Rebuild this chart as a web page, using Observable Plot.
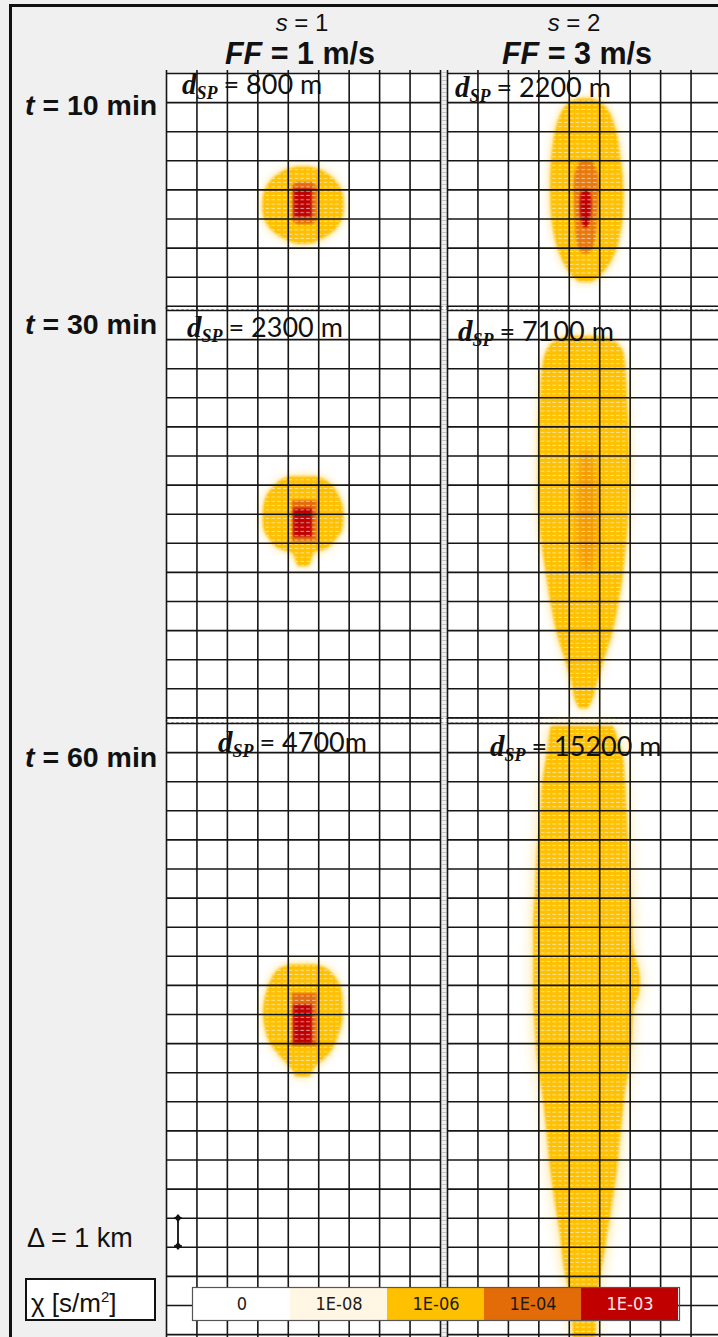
<!DOCTYPE html>
<html><head><meta charset="utf-8">
<script src="https://cdn.jsdelivr.net/npm/d3@7"></script>
<script src="https://cdn.jsdelivr.net/npm/@observablehq/plot@0.6"></script>
<style>
html,body{margin:0;padding:0;}
body{width:718px;height:1337px;overflow:hidden;background:#f0f0f0;position:relative;font-family:"Liberation Sans",Arial,sans-serif;color:#111;}
.abs{position:absolute;white-space:nowrap;line-height:1;}
.dsp{font-family:Lato,"Open Sans",sans-serif;font-size:27px;}
.dsp .d{font-family:"Liberation Serif","DejaVu Serif",serif;font-weight:bold;font-style:italic;font-size:29px;}
.dsp .sub{font-family:"Liberation Serif","DejaVu Serif",serif;font-weight:bold;font-style:italic;font-size:18px;position:relative;top:5px;margin-right:6px;}
</style></head><body>
<svg width="0" height="0" style="position:absolute">
<defs>
 <pattern id="tex" patternUnits="userSpaceOnUse" width="5.8" height="4.3"><rect x="1" y="1.6" width="3.6" height="1" fill="#fff" fill-opacity="0.6"/></pattern>
 <filter id="halo" x="-60%" y="-30%" width="220%" height="160%"><feGaussianBlur stdDeviation="5"/></filter>
 <filter id="wide" x="-80%" y="-30%" width="260%" height="160%"><feGaussianBlur stdDeviation="7"/></filter>
 <filter id="blob" x="-60%" y="-30%" width="220%" height="160%"><feGaussianBlur stdDeviation="4"/></filter>
 <filter id="soft" x="-20%" y="-20%" width="140%" height="140%"><feGaussianBlur stdDeviation="1.1"/></filter>
</defs></svg>
<script>
// ---------- data ----------
const gridX = [0,1,2,3,4,5,6,7,8,9];
const gridY10 = [0,1,2,3,4,5,6,7,8];
const gridY30 = [0,1,2,3,4,5,6,7,8,9,10,11,12,13,14];
const gridY60 = [0,1,2,3,4,5,6,7,8,9,10,11,12,13,14,15,16,17,18,19,20,21];
const stabilityLabels = ["1", "2"];
const windLabels = ["1 m/s", "3 m/s"];
const timeLabels = ["10", "30", "60"];
const dspLabels = [["800 m", "2200 m"], ["2300 m", "7100 m"], ["4700m", "15200 m"]];
const legendLabels = ["0", "1E-08", "1E-06", "1E-04", "1E-03"];
const legendColors = ["#ffffff", "#fff6e3", "#ffc000", "#e36c09", "#c00000"];

// plume outlines: [y km from panel top, x left km, x right km]
const t10s1Yellow = [[3.22,4.3,4.7],[3.32,3.95,5.05],[3.5,3.65,5.35],[3.75,3.4,5.6],[4.1,3.22,5.78],[4.5,3.17,5.83],[4.9,3.2,5.8],[5.25,3.35,5.65],[5.55,3.65,5.35],[5.75,4.0,5.0],[5.87,4.3,4.7]];
const t10s1Orange = [[3.75,4.25,4.8],[3.9,4.13,4.95],[5.05,4.13,4.95],[5.2,4.3,4.8]];
const t10s1Red = [[3.97,4.2,4.78],[4.95,4.2,4.78]];
const t10s2Yellow = [[0.88,4.3,4.75],[1.02,4.0,5.05],[1.3,3.78,5.3],[2.0,3.55,5.55],[3.0,3.42,5.7],[4.0,3.39,5.79],[5.05,3.44,5.75],[5.9,3.6,5.6],[6.5,3.82,5.36],[6.95,4.1,5.03],[7.17,4.35,4.75]];
const t10s2Orange = [[3.0,4.4,4.75],[3.4,4.21,4.93],[5.0,4.2,4.93],[5.95,4.3,4.8],[6.2,4.45,4.65]];
const t10s2Red = [[4.0,4.45,4.65],[4.2,4.38,4.72],[4.9,4.38,4.72],[5.3,4.48,4.62]];
const t30s1Yellow = [[5.72,4.1,4.9],[5.85,3.75,5.25],[6.05,3.55,5.47],[6.36,3.31,5.66],[6.76,3.2,5.8],[7.16,3.18,5.82],[7.56,3.22,5.77],[7.9,3.42,5.55],[8.19,3.69,5.28],[8.35,4.15,4.85],[8.71,4.29,4.73],[8.8,4.35,4.67]];
const t30s1Orange = [[6.53,4.13,4.95],[7.96,4.13,4.95]];
const t30s1Red = [[6.81,4.18,4.79],[7.79,4.18,4.79]];
const t30s2Yellow = [[0.9,4.0,5.0],[1.05,3.55,5.45],[1.37,3.28,5.75],[2.06,3.11,5.86],[3.09,3.06,5.91],[4.24,3.0,5.96],[5.38,3.0,6.0],[6.53,3.0,5.96],[7.67,3.06,5.91],[8.82,3.22,5.8],[9.97,3.39,5.64],[11.1,3.61,5.42],[12.03,3.88,5.14],[12.83,4.1,4.92],[13.4,4.21,4.76],[13.69,4.35,4.62]];
const t30s2Orange = [[4.8,4.45,4.7],[5.8,4.3,4.9],[7.0,4.25,4.95],[8.2,4.3,4.9],[9.0,4.45,4.75]];
const t60s1Yellow = [[8.3,4.1,4.9],[8.42,3.75,5.25],[8.62,3.55,5.47],[9.05,3.36,5.72],[9.74,3.2,5.8],[10.31,3.22,5.77],[10.88,3.36,5.6],[11.23,3.58,5.44],[11.51,3.8,5.22],[11.74,4.02,4.95],[11.97,4.18,4.79],[12.14,4.23,4.73]];
const t60s1Orange = [[9.27,4.13,4.95],[11.11,4.13,4.95]];
const t60s1Red = [[9.68,4.18,4.79],[11.0,4.18,4.79]];
const t60s2Yellow = [[0.1,3.4,5.45],[1.03,3.28,5.75],[2.18,3.11,5.86],[3.32,3.06,5.91],[4.47,2.95,5.96],[5.61,2.9,6.02],[6.76,2.84,6.07],[7.8,2.84,6.12],[8.3,2.84,6.25],[8.7,2.84,6.33],[9.3,2.84,6.3],[9.8,2.85,6.13],[10.77,2.9,6.07],[11.91,3.0,5.96],[13.06,3.17,5.8],[14.2,3.28,5.69],[15.35,3.39,5.58],[16.5,3.55,5.42],[17.64,3.72,5.25],[18.67,3.83,5.09],[19.5,4.0,4.95],[20.5,4.1,4.9],[21.6,4.15,4.85]];

// ---------- layout ----------
const KM = 29.1, PW = 274;
const colX = [166, 447.3];
const rowY = [72.7, 310, 723.3];
const rowKm = [8, 14, 21.6];
const panels = [
  [{gridY: gridY10, yellow: t10s1Yellow, orange: t10s1Orange, red: t10s1Red},
   {gridY: gridY10, yellow: t10s2Yellow, orange: t10s2Orange, red: t10s2Red, orangeCurve: "catmull-rom", redCurve: "catmull-rom", orangeOpacity: 0.85}],
  [{gridY: gridY30, yellow: t30s1Yellow, orange: t30s1Orange, red: t30s1Red},
   {gridY: gridY30, yellow: t30s2Yellow, orange: t30s2Orange, orangeCurve: "catmull-rom", orangeOpacity: 0.45, orangeBlob: true}],
  [{gridY: gridY60, yellow: t60s1Yellow, orange: t60s1Orange, red: t60s1Red},
   {gridY: gridY60, yellow: t60s2Yellow, haloWide: true}]
];

function place(html, x, baseline, size, css, anchor, ascent) {
  const el = document.createElement("div");
  el.className = "abs";
  el.innerHTML = html;
  el.style.cssText += css || "";
  el.style.fontSize = size + "px";
  el.style.left = x + "px";
  el.style.top = (baseline - (ascent || 0.85) * size) + "px";
  if (anchor === "middle") el.style.transform = "translateX(-50%)";
  document.body.appendChild(el);
  return el;
}
function box(x, y, w, h, css) {
  const el = document.createElement("div");
  el.className = "abs";
  el.style.cssText += `left:${x}px;top:${y}px;width:${w}px;height:${h}px;` + css;
  document.body.appendChild(el);
  return el;
}

// frame lines of the figure
box(10, 4, 708, 2.5, "background:#111;");
box(9, 4, 2.5, 1333, "background:#111;");

// separators
box(441.5, 72, 5, 1265, "background:repeating-linear-gradient(to bottom,#c4c4c4 0 1px,#efefef 1px 4px);");
box(166, 305.8, 552, 4, "background:#fff;border-top:1px dashed #9a9a9a;border-bottom:1px dashed #b0b0b0;box-sizing:border-box;");
box(166, 718.2, 552, 4.6, "background:#fff;border-top:1px dashed #9a9a9a;border-bottom:1px dashed #b0b0b0;box-sizing:border-box;");

function panelPlot(p, rows) {
  const H = rows * KM;
  const acc = {y: d => d[0], x1: d => d[1], x2: d => d[2]};
  const marks = [], roles = [];
  const add = (m, role) => { marks.push(m); roles.push(role); };
  add(Plot.areaX(p.yellow, {...acc, fill: p.haloWide ? "#ffd24d" : "#ffc000", fillOpacity: p.haloWide ? 0.75 : 0.6, curve: "catmull-rom"}), p.haloWide ? "wide" : "halo");
  add(Plot.areaX(p.yellow, {...acc, fill: "#ffc000", curve: "catmull-rom"}), "soft");
  if (p.orange) add(Plot.areaX(p.orange, {...acc, fill: "#e46c0a", fillOpacity: p.orangeOpacity ?? 1, curve: p.orangeCurve ?? "linear"}), p.orangeBlob ? "blob" : "soft");
  if (p.red) add(Plot.areaX(p.red, {...acc, fill: "#c00000", curve: p.redCurve ?? "linear"}), "soft");
  add(Plot.areaX(p.yellow, {...acc, fill: "white", curve: "catmull-rom"}), "texture");
  add(Plot.ruleX(gridX, {stroke: "#161616", strokeWidth: 1.6, insetTop: -3, insetBottom: -3}), "grid");
  add(Plot.ruleY(p.gridY, {stroke: "#161616", strokeWidth: 1.6}), "grid");
  const svg = Plot.plot({
    width: PW, height: H, margin: 0,
    x: {domain: [0, 9], range: [0, PW], axis: null},
    y: {domain: [0, rows], range: [0, H], axis: null},
    style: {background: "white", overflow: "visible"},
    marks
  });
  const groups = Array.from(svg.children).filter(n => n.tagName.toLowerCase() === "g");
  groups.forEach((g, i) => {
    const role = roles[i];
    if (role === "halo") g.setAttribute("filter", "url(#halo)");
    else if (role === "wide") g.setAttribute("filter", "url(#wide)");
    else if (role === "blob") g.setAttribute("filter", "url(#blob)");
    else if (role === "soft") g.setAttribute("filter", "url(#soft)");
    else if (role === "texture") { g.setAttribute("fill", "url(#tex)"); g.querySelectorAll("path").forEach(pth => pth.setAttribute("fill", "url(#tex)")); }
  });
  return svg;
}

panels.forEach((row, r) => row.forEach((p, c) => {
  const wrap = box(colX[c], rowY[r], PW, rowKm[r] * KM, "");
  wrap.appendChild(panelPlot(p, rowKm[r]));
}));

// headers
const colCenters = [302, 574];
stabilityLabels.forEach((s, i) => place(`<i>s</i> = ${s}`, colCenters[i], 31, 24, "", "middle"));
windLabels.forEach((w, i) => place(`<b><i>FF</i> = ${w}</b>`, colCenters[i] + (i ? 3 : -2), 64, 30.5, "", "middle"));
const timeBase = [115, 334, 767];
timeLabels.forEach((t, i) => place(`<b><i>t</i> = ${t} min</b>`, 25, timeBase[i], 28.5, ""));

// d_SP labels
const dspPos = [[[182, 94], [455, 97]], [[187, 337], [458, 341]], [[218, 752], [490, 756]]];
dspLabels.forEach((row, r) => row.forEach((lab, c) => {
  const el = place(`<span class="d">d</span><span class="sub">SP</span>= ${lab}`, dspPos[r][c][0], dspPos[r][c][1], 27, "", null, 0.88);
  el.classList.add("dsp");
}));

// scale indicator
place(`&Delta; = 1 km`, 27, 1248, 27, "");
const arrow = box(172, 1214, 12, 36, "");
arrow.innerHTML = `<svg width="12" height="36"><line x1="6" y1="4" x2="6" y2="32" stroke="#111" stroke-width="1.8"/><line x1="2" y1="4" x2="10" y2="4" stroke="#111" stroke-width="1.5"/><line x1="2" y1="32" x2="10" y2="32" stroke="#111" stroke-width="1.5"/><path d="M6 0 L9.5 4 L6 8 L2.5 4Z M6 28 L9.5 32 L6 36 L2.5 32Z" fill="#111"/></svg>`;

// legend
box(25, 1278, 131, 43, "background:#fff;border:2px solid #111;box-sizing:border-box;");
place(`&chi; [s/m<sup style="font-size:15px">2</sup>]`, 31, 1311, 26, "");
const legWrap = box(191.5, 1286.5, 487, 33, "");
legWrap.appendChild(Plot.plot({
  width: 487, height: 33, margin: 0,
  x: {domain: legendLabels, range: [0, 487], padding: 0, axis: null},
  color: {domain: legendLabels, range: legendColors},
  style: {overflow: "visible", fontFamily: "'Liberation Sans Narrow','DejaVu Sans Condensed',sans-serif", fontSize: "18px"},
  marks: [
    Plot.cell(legendLabels, {x: d => d, fill: d => d}),
    Plot.text(legendLabels, {x: d => d, text: d => d, fill: "#1a1a1a", filter: (d, i) => i < 4}),
    Plot.text(legendLabels, {x: d => d, text: d => d, fill: "#ffe6e6", filter: (d, i) => i === 4}),
    Plot.frame({stroke: "#555", strokeWidth: 1.2})
  ]
}));
</script>
</body></html>
